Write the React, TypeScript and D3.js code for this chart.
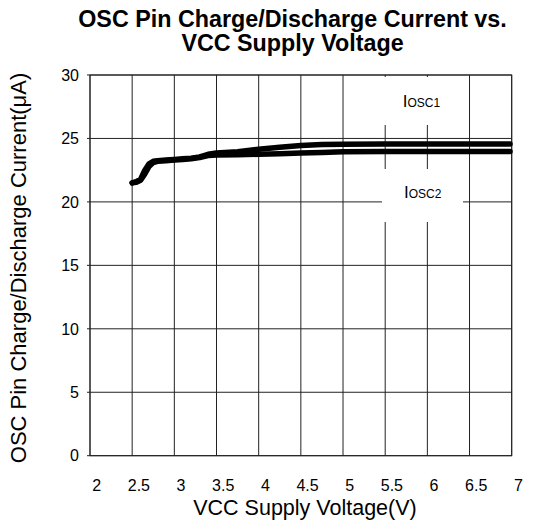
import React from "react";
import * as d3 from "d3";

const xTicks = [2, 2.5, 3, 3.5, 4, 4.5, 5, 5.5, 6, 6.5, 7];
const yTicks = [0, 5, 10, 15, 20, 25, 30];

const vcc = [2.5, 2.55, 2.6, 2.65, 2.7, 2.75, 2.8, 2.9, 3.0, 3.1, 3.2, 3.3, 3.4, 3.5, 3.75, 4.0, 4.25, 4.5, 4.75, 5.0, 5.5, 6.0, 6.5, 6.98];
const iosc1 = [21.5, 21.6, 21.8, 22.5, 23.0, 23.2, 23.25, 23.3, 23.35, 23.4, 23.45, 23.55, 23.75, 23.85, 23.95, 24.15, 24.3, 24.45, 24.52, 24.55, 24.56, 24.56, 24.56, 24.56];
const iosc2 = [21.5, 21.55, 21.7, 22.2, 22.8, 23.1, 23.2, 23.25, 23.3, 23.35, 23.4, 23.5, 23.65, 23.7, 23.72, 23.75, 23.8, 23.85, 23.9, 23.95, 23.97, 23.98, 23.98, 23.98];

const labels = [
  { name: "OSC1", x: 5.708, y: 27.46 },
  { name: "OSC2", x: 5.723, y: 20.29 },
];

export default function App() {
  const W = 536, H = 530;
  const left = 90, right = 511.7, top = 75, bottom = 455.7;
  const x = d3.scaleLinear().domain([2, 7]).range([left, right]);
  const y = d3.scaleLinear().domain([0, 30]).range([bottom, top]);
  const line = d3.line<number>().x((d, i) => x(vcc[i])).y((d) => y(d)).curve(d3.curveLinear);
  const font = "'Liberation Sans', Arial, sans-serif";
  const gridColor = "#222";
  return (
    <svg width={W} height={H} style={{ position: "absolute", left: 0, top: 0, background: "#fff" }} fontFamily={font}>
      <rect x={0} y={0} width={W} height={H} fill="#fff" />
      <text x={292.5} y={27} textAnchor="middle" fontSize={23.3} fontWeight="bold">OSC Pin Charge/Discharge Current vs.</text>
      <text x={292.5} y={51} textAnchor="middle" fontSize={23.3} fontWeight="bold">VCC Supply Voltage</text>
      {xTicks.map((t) => (
        <line key={"vx" + t} x1={x(t)} x2={x(t)} y1={top} y2={bottom} stroke={gridColor} strokeWidth={1} />
      ))}
      {yTicks.map((t) => (
        <line key={"hy" + t} x1={left - 3} x2={right} y1={y(t)} y2={y(t)} stroke={gridColor} strokeWidth={1} />
      ))}
      <rect x={left} y={top} width={right - left} height={bottom - top} fill="none" stroke={gridColor} strokeWidth={1} />
      {yTicks.map((t) => (
        <text key={"ty" + t} x={79} y={y(t)} dy="0.36em" textAnchor="end" fontSize={16}>{t}</text>
      ))}
      {xTicks.map((t) => (
        <text key={"tx" + t} x={x(t) + 6.7} y={491} textAnchor="middle" fontSize={16}>{t}</text>
      ))}
      <text x={305} y={515} textAnchor="middle" fontSize={21.5}>VCC Supply Voltage(V)</text>
      <text transform={`translate(26,268) rotate(-90)`} textAnchor="middle" fontSize={22}>OSC Pin Charge/Discharge Current(μA)</text>
      <path d={line(iosc2) || ""} fill="none" stroke="#000" strokeWidth={5.5} strokeLinecap="round" strokeLinejoin="round" />
      <path d={line(iosc1) || ""} fill="none" stroke="#000" strokeWidth={5.5} strokeLinecap="round" strokeLinejoin="round" />
      <rect x={380} y={77} width={81} height={48} fill="#fff" />
      <rect x={382} y={169} width={81} height={53} fill="#fff" />
      {labels.map((l) => (
        <text key={l.name} x={x(l.x)} y={y(l.y)} fontSize={17}>
          I<tspan fontSize={12}>{l.name}</tspan>
        </text>
      ))}
    </svg>
  );
}
